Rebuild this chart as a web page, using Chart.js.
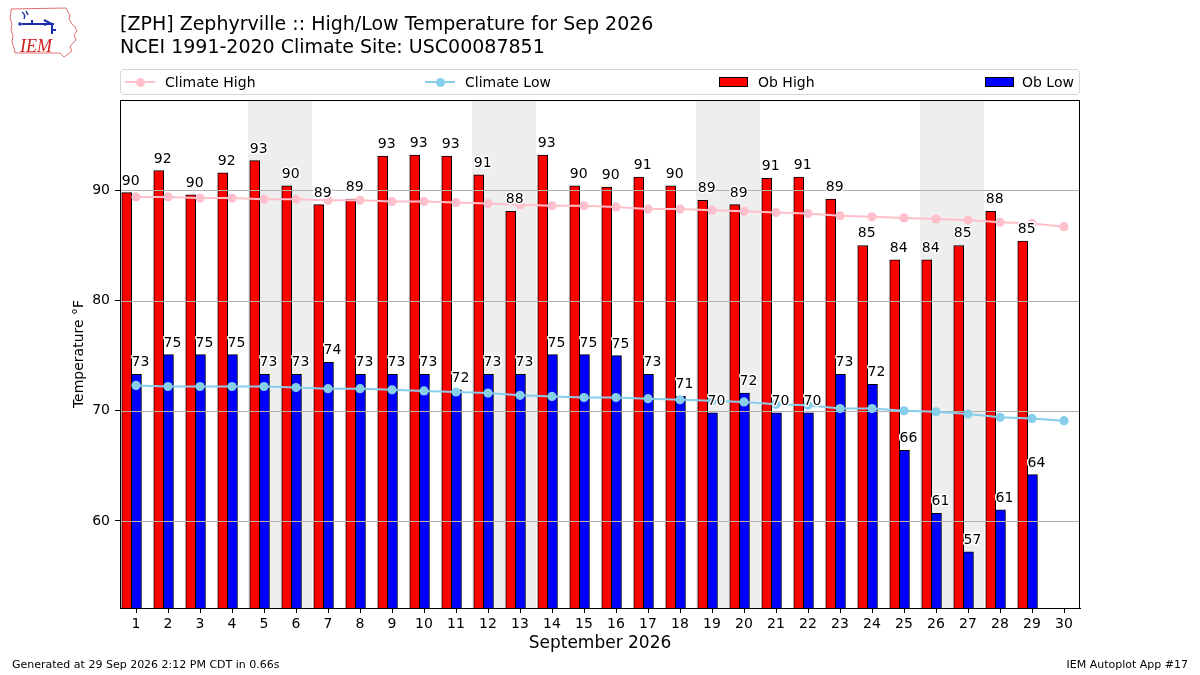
<!DOCTYPE html>
<html>
<head>
<meta charset="utf-8">
<title>High/Low Temperature for Sep 2026</title>
<script src="https://cdn.jsdelivr.net/npm/chart.js@4.4.1/dist/chart.umd.min.js"></script>
<style>
  body { margin: 0; background: #fff; font-family: "DejaVu Sans", sans-serif; color: #000; }
  #wrap { position: relative; width: 1200px; height: 675px; overflow: hidden; }
  #chart { position: absolute; left: 0; top: 0; }
  .title { position: absolute; left: 120px; top: 11.5px; font-size: 19px; line-height: 23.3px; white-space: nowrap; }
  .legend { position: absolute; left: 120px; top: 69px; width: 958px; height: 24px; border: 1px solid #d6d6d6; border-radius: 4px; }
  .lg-line { position: absolute; height: 2px; top: 81px; width: 30px; }
  .lg-dot { position: absolute; width: 9px; height: 9px; border-radius: 50%; top: 77.5px; }
  .lg-box { position: absolute; width: 27px; height: 8px; top: 77px; border: 1px solid #000; }
  .lg-text { position: absolute; top: 74px; font-size: 14px; line-height: 16px; white-space: nowrap; }
  .foot { position: absolute; top: 658px; font-size: 11px; line-height: 14px; white-space: nowrap; }
</style>
</head>
<body>
<div id="wrap">
  <canvas id="chart" width="1200" height="675"></canvas>

  <svg style="position:absolute;left:0;top:0" width="90" height="62" viewBox="0 0 90 62">
    <polyline fill="none" stroke="#e07070" stroke-width="1"
      points="11,9 66,8 68,12 70,15 69,19 72,24 75,27 77,31 74,35 76,40 72,44 70,47 72,51 68,54 64,57 60,53 15,53 14,48 12,42 13,36 11,30 12,24 10,18 11,13 11,9"/>
    <path d="M22 12 q4 3 2 7 M26 11 l2 4" stroke="#2233aa" stroke-width="1.5" fill="none"/>
    <path d="M22 24 h32 M44 20 l6 3 l-6 2 M32 24 v-4 M52 24 v10 M52 30 h4" stroke="#1a2fb0" stroke-width="2" fill="none"/>
    <circle cx="20" cy="24" r="1.8" fill="#1a2fb0"/>
    <text x="20" y="52" font-family="Liberation Serif, serif" font-style="italic" font-size="18" fill="#d02020">IEM</text>
  </svg>

  <div class="title">[ZPH] Zephyrville :: High/Low Temperature for Sep 2026<br>NCEI 1991-2020 Climate Site: USC00087851</div>

  <div class="legend"></div>
  <div class="lg-line" style="left:125px;background:#ffc0cb"></div>
  <div class="lg-dot" style="left:135.5px;background:#ffc0cb"></div>
  <div class="lg-text" style="left:165px">Climate High</div>
  <div class="lg-line" style="left:425px;background:#87ceeb"></div>
  <div class="lg-dot" style="left:435.5px;background:#87ceeb"></div>
  <div class="lg-text" style="left:465px">Climate Low</div>
  <div class="lg-box" style="left:719px;background:#ff0000"></div>
  <div class="lg-text" style="left:758px">Ob High</div>
  <div class="lg-box" style="left:985px;background:#0000ff"></div>
  <div class="lg-text" style="left:1022px">Ob Low</div>

  <div class="foot" style="left:12px">Generated at 29 Sep 2026 2:12 PM CDT in 0.66s</div>
  <div class="foot" style="right:12px">IEM Autoplot App #17</div>
</div>

<script>
const days = [1, 2, 3, 4, 5, 6, 7, 8, 9, 10, 11, 12, 13, 14, 15, 16, 17, 18, 19, 20,
              21, 22, 23, 24, 25, 26, 27, 28, 29, 30];
// first day (Saturday) of each weekend
const weekendStarts = [5, 12, 19, 26];
const obHigh = [89.8, 91.8, 89.6, 91.6, 92.7, 90.4, 88.7, 89.2, 93.1, 93.2,
                93.1, 91.4, 88.1, 93.2, 90.4, 90.3, 91.2, 90.4, 89.1, 88.7,
                91.1, 91.2, 89.2, 85.0, 83.7, 83.7, 85.0, 88.1, 85.4];
const obLow = [73.3, 75.1, 75.1, 75.1, 73.3, 73.3, 74.4, 73.3, 73.3, 73.3,
               71.9, 73.3, 73.3, 75.1, 75.1, 75.0, 73.3, 71.3, 69.8, 71.6,
               69.8, 69.8, 73.3, 72.4, 66.4, 60.7, 57.2, 61.0, 64.2];
const climHigh = [89.4, 89.4, 89.3, 89.3, 89.2, 89.2, 89.1, 89.1, 89.0, 89.0,
                  88.9, 88.8, 88.7, 88.6, 88.6, 88.5, 88.3, 88.3, 88.2, 88.1,
                  88.0, 87.9, 87.7, 87.6, 87.5, 87.4, 87.3, 87.1, 87.0, 86.7];
const climLow = [72.3, 72.2, 72.2, 72.2, 72.2, 72.1, 72.0, 72.0, 71.9, 71.8,
                 71.7, 71.6, 71.4, 71.3, 71.2, 71.2, 71.1, 71.0, 70.9, 70.8,
                 70.6, 70.5, 70.2, 70.2, 70.0, 69.9, 69.7, 69.4, 69.3, 69.1];
const yTicks = [60, 70, 80, 90];
const yMin = 52.1, yMax = 98.2;
const xMin = 0.5, xMax = 30.5;

// bars sit just left of the day tick, high then low
const highShift = -0.29, lowShift = 0.015;

const weekendShade = {
  id: 'weekendShade',
  beforeDatasetsDraw(chart) {
    const { ctx, chartArea: a, scales: { x } } = chart;
    ctx.save();
    ctx.fillStyle = '#eeeeee';
    weekendStarts.forEach(d => {
      const x0 = x.getPixelForValue(d - 0.5);
      const x1 = x.getPixelForValue(d + 1.5);
      ctx.fillRect(x0, a.top, x1 - x0, a.bottom - a.top);
    });
    ctx.restore();
    chart.$gridDone = false;
  },
  // grid goes over the bars but under the climate lines
  beforeDatasetDraw(chart, args) {
    if (chart.$gridDone || args.meta.type !== 'line') return;
    chart.$gridDone = true;
    const { ctx, chartArea: a, scales: { y } } = chart;
    ctx.save();
    ctx.strokeStyle = '#b0b0b0';
    ctx.lineWidth = 1;
    yTicks.forEach(t => {
      const py = Math.round(y.getPixelForValue(t)) + 0.5;
      ctx.beginPath();
      ctx.moveTo(a.left, py);
      ctx.lineTo(a.right, py);
      ctx.stroke();
    });
    ctx.restore();
  },
  afterDatasetsDraw(chart) {
    const { ctx } = chart;
    ctx.save();
    ctx.font = '14px "DejaVu Sans"';
    ctx.textAlign = 'left';
    ctx.textBaseline = 'alphabetic';
    ctx.lineJoin = 'round';
    chart.data.datasets.forEach((ds, i) => {
      if (ds.type !== 'bar') return;
      chart.getDatasetMeta(i).data.forEach((bar, j) => {
        const txt = String(Math.round(ds.data[j].y));
        const lx = bar.x - bar.width / 2;
        const ly = bar.y - 8;
        ctx.strokeStyle = '#fff';
        ctx.lineWidth = 3;
        ctx.strokeText(txt, lx, ly);
        ctx.fillStyle = '#000';
        ctx.fillText(txt, lx, ly);
      });
    });
    ctx.restore();
  },
  afterDraw(chart) {
    const { ctx, chartArea: a } = chart;
    ctx.save();
    ctx.strokeStyle = '#000';
    ctx.lineWidth = 1;
    ctx.strokeRect(a.left + 0.5, a.top + 0.5, a.right - a.left - 1, a.bottom - a.top);
    ctx.restore();
  }
};

Chart.defaults.font.family = '"DejaVu Sans", sans-serif';
Chart.defaults.color = '#000';

new Chart(document.getElementById('chart').getContext('2d'), {
  data: {
    datasets: [
      {
        type: 'line',
        label: 'Climate High',
        data: days.map((d, i) => ({ x: d, y: climHigh[i] })),
        borderColor: '#ffc0cb',
        backgroundColor: '#ffc0cb',
        borderWidth: 2,
        pointRadius: 4.6,
        pointBorderWidth: 0,
        tension: 0,
        order: 0
      },
      {
        type: 'line',
        label: 'Climate Low',
        data: days.map((d, i) => ({ x: d, y: climLow[i] })),
        borderColor: '#87ceeb',
        backgroundColor: '#87ceeb',
        borderWidth: 2,
        pointRadius: 4.6,
        pointBorderWidth: 0,
        tension: 0,
        order: 0
      },
      {
        type: 'bar',
        label: 'Ob High',
        data: obHigh.map((v, i) => ({ x: days[i] + highShift, y: v })),
        backgroundColor: '#ff0000',
        borderColor: '#000',
        borderWidth: 1,
        barThickness: 10,
        grouped: false,
        order: 1
      },
      {
        type: 'bar',
        label: 'Ob Low',
        data: obLow.map((v, i) => ({ x: days[i] + lowShift, y: v })),
        backgroundColor: '#0000ff',
        borderColor: '#000',
        borderWidth: 1,
        barThickness: 10,
        grouped: false,
        order: 1
      }
    ]
  },
  options: {
    responsive: false,
    animation: false,
    devicePixelRatio: 1,
    layout: { padding: { left: 0, top: 100, right: 120, bottom: 0 } },
    plugins: {
      legend: { display: false },
      tooltip: { enabled: false }
    },
    scales: {
      x: {
        type: 'linear',
        min: xMin,
        max: xMax,
        offset: false,
        afterBuildTicks: s => { s.ticks = days.map(d => ({ value: d })); },
        afterFit: s => { s.height = 67; },
        ticks: { font: { size: 14 }, padding: 3, autoSkip: false, maxRotation: 0 },
        grid: { offset: false, drawOnChartArea: false, tickLength: 5, color: '#000' },
        border: { color: '#000' },
        title: { display: true, text: 'September 2026', font: { size: 17 }, padding: { top: 0, bottom: 21 } }
      },
      y: {
        min: yMin,
        max: yMax,
        afterBuildTicks: s => { s.ticks = yTicks.map(v => ({ value: v })); },
        afterFit: s => { s.width = 120; },
        ticks: { font: { size: 14 }, padding: 5 },
        grid: { drawOnChartArea: false, tickLength: 5, color: '#000' },
        border: { color: '#000' },
        title: { display: true, text: 'Temperature °F', font: { size: 14 }, padding: { top: 71, bottom: 0 } }
      }
    }
  },
  plugins: [weekendShade]
});
</script>
</body>
</html>
